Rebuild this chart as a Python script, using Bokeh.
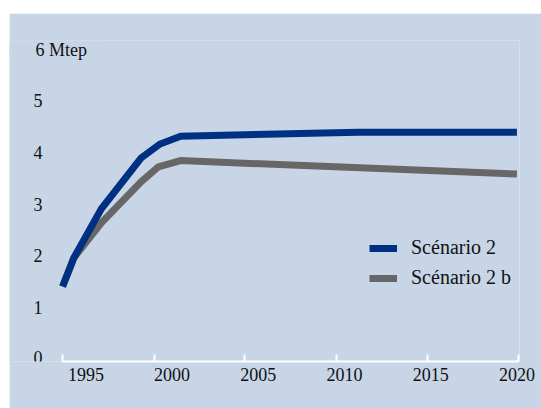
from bokeh.plotting import figure
from bokeh.models import (Range1d, FixedTicker, LinearAxis, Label, Legend,
                          LegendItem, BoxAnnotation)
from bokeh.core.properties import value
from bokeh.embed import file_html
from bokeh.resources import INLINE

# Consumption projections, in Mtep
years_s2 = [1993.65, 1994.3, 1995.9, 1998.2, 1999.3, 2000.5, 2010.8, 2020.0]
scenario_2 = [1.45, 2.0, 2.95, 3.93, 4.2, 4.35, 4.43, 4.43]

years_s2b = [1993.65, 1994.3, 1995.9, 1998.2, 1999.2, 2000.5, 2020.0]
scenario_2b = [1.45, 2.0, 2.68, 3.47, 3.76, 3.88, 3.62]

year_labels = [1995, 2000, 2005, 2010, 2015, 2020]
year_tick_marks = [1993.65, 1998.97, 2004.18, 2009.51, 2014.79, 2020.1]
y_ticks = [0, 1, 2, 3, 4, 5]
y_tick_labels = ["0", "1", "2", "3", "4", "5"]
grid_values = [1, 2, 3, 4, 5, 6]
unit_label = "6 Mtep"

PANEL = "#C8D5E6"
BLUE = "#003082"
GREY = "#676767"
FONT = "Liberation Serif"
INK = "#111111"

x_start = year_tick_marks[0]

p = figure(width=532, height=395, margin=(13, 0, 0, 9),
           output_backend="svg", toolbar_location=None,
           x_range=Range1d(1990.57, 2020.15), y_range=Range1d(0, 6.2),
           x_axis_type=None, y_axis_type=None,
           min_border_left=0, min_border_right=22,
           min_border_top=27, min_border_bottom=47,
           background_fill_color=PANEL, border_fill_color=PANEL,
           outline_line_color=None)

# horizontal grid, starting where the data starts
p.xgrid.visible = False
p.ygrid.ticker = FixedTicker(ticks=grid_values)
p.ygrid.grid_line_color = "white"
p.ygrid.grid_line_width = 2
p.add_layout(BoxAnnotation(right=x_start, fill_color=PANEL, fill_alpha=1,
                           line_color=None, level="underlay"))
# gap in the top grid line for the unit label
p.add_layout(BoxAnnotation(right=x_start + 2.38, bottom=5.8, top=6.4,
                           fill_color=PANEL, fill_alpha=1,
                           line_color=None, level="underlay"))

# value labels to the left of the plotting area
label_lift = [-4, -2, -2, -2, -2, -2]
p.text(x=[x_start] * len(y_ticks), y=y_ticks, text=y_tick_labels,
       x_offset=-20, y_offset=label_lift, text_align="right",
       text_baseline="middle",
       text_font=value(FONT), text_font_size="18px", text_color=INK)

# unit label sitting on the top grid line
p.add_layout(Label(x=x_start, y=6, x_offset=-27, y_offset=1,
                   text=unit_label, text_font=FONT, text_font_size="18px",
                   text_color=INK, text_baseline="middle", text_align="left"))

# year axis: baseline with upward tick marks
tick_axis = LinearAxis(ticker=FixedTicker(ticks=year_tick_marks),
                       bounds=(year_tick_marks[0], year_tick_marks[-1]),
                       axis_line_color="white", axis_line_width=2,
                       major_tick_line_color="white", major_tick_line_width=2,
                       major_tick_in=7, major_tick_out=0,
                       minor_tick_line_color=None,
                       major_label_overrides={t: "" for t in year_tick_marks},
                       major_label_standoff=0,
                       major_label_text_font_size="1px")
p.add_layout(tick_axis, "below")

# year axis: labels only
label_axis = LinearAxis(ticker=FixedTicker(ticks=year_labels),
                        axis_line_color=None, major_tick_line_color=None,
                        minor_tick_line_color=None,
                        major_tick_in=0, major_tick_out=0,
                        major_label_standoff=6,
                        major_label_text_font=FONT,
                        major_label_text_font_size="18px",
                        major_label_text_color=INK)
p.add_layout(label_axis, "below")

r_grey = p.line(years_s2b, scenario_2b, line_color=GREY, line_width=7,
                line_join="miter")
r_blue = p.line(years_s2, scenario_2, line_color=BLUE, line_width=7,
                line_join="miter")

legend = Legend(items=[LegendItem(label="Scénario 2", renderers=[r_blue]),
                       LegendItem(label="Scénario 2 b", renderers=[r_grey])],
                location=(360, 72), orientation="vertical",
                glyph_width=28, glyph_height=20, label_standoff=14,
                label_text_font=FONT, label_text_font_size="20px",
                label_text_color=INK, spacing=7, padding=0, margin=0,
                background_fill_alpha=0, border_line_alpha=0)
p.add_layout(legend)

open("out.html", "w").write(file_html(p, INLINE))
